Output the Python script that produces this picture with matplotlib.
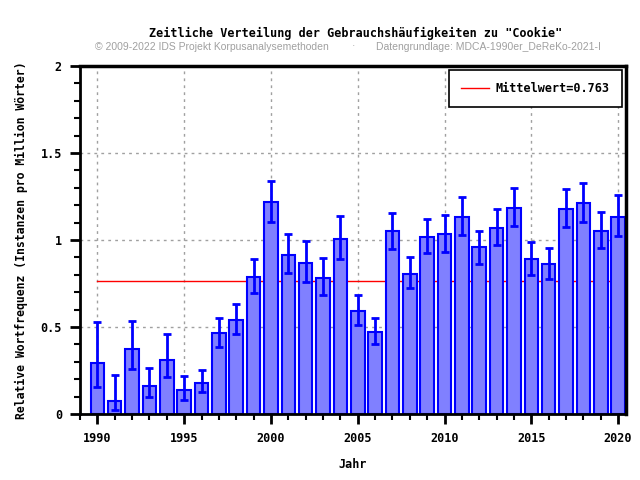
import matplotlib
matplotlib.use('Agg')
import matplotlib.pyplot as plt
from matplotlib.ticker import MultipleLocator, FixedLocator
import numpy as np

years = list(range(1990, 2021))
freq = [0.291, 0.077, 0.375, 0.163, 0.312, 0.136, 0.180, 0.467, 0.542, 0.789,
        1.220, 0.916, 0.870, 0.784, 1.008, 0.594, 0.473, 1.050, 0.806, 1.019,
        1.036, 1.134, 0.958, 1.071, 1.186, 0.893, 0.864, 1.180, 1.215, 1.054,
        1.134]
err_hi = [0.530, 0.224, 0.536, 0.264, 0.461, 0.218, 0.253, 0.552, 0.632, 0.891,
          1.339, 1.036, 0.996, 0.898, 1.140, 0.686, 0.554, 1.157, 0.902, 1.121,
          1.146, 1.249, 1.054, 1.180, 1.299, 0.990, 0.954, 1.293, 1.328, 1.161,
          1.260]
err_lo = [0.157, 0.023, 0.259, 0.098, 0.213, 0.082, 0.128, 0.385, 0.461, 0.695,
          1.105, 0.810, 0.759, 0.684, 0.891, 0.513, 0.404, 0.948, 0.724, 0.925,
          0.931, 1.029, 0.862, 0.971, 1.080, 0.799, 0.776, 1.075, 1.103, 0.954,
          1.023]
mean_value = 0.763

mono = 'DejaVu Sans Mono'

fig = plt.figure(figsize=(6.4, 4.8), dpi=100)
ax = fig.add_axes([0.125, 0.1375, 0.853, 0.725])

f = np.array(freq)
yerr = [f - np.array(err_lo), np.array(err_hi) - f]

ax.plot([years[0], years[-1]], [mean_value, mean_value], color='red', lw=1,
        zorder=1, label='Mittelwert=%.3f' % mean_value)
ax.bar(years, freq, width=0.78, color='#8080ff', edgecolor='#0000ff',
       linewidth=1.5, zorder=2)
ax.errorbar(years, freq, yerr=yerr, fmt='none', ecolor='#0000ff',
            elinewidth=2, capsize=3, capthick=2, zorder=3)

ax.set_xlim(1989, 2020.45)
ax.set_ylim(0, 2)
ax.xaxis.set_major_locator(MultipleLocator(5))
ax.xaxis.set_minor_locator(MultipleLocator(1))
ax.yaxis.set_major_locator(FixedLocator([0, 0.5, 1, 1.5, 2]))
ax.yaxis.set_minor_locator(MultipleLocator(0.1))
ax.set_yticklabels(['0', '0.5', '1', '1.5', '2'])

ax.tick_params(which='major', direction='out', length=7, width=2,
               labelsize=8.5, pad=6)
ax.tick_params(which='minor', direction='out', length=4, width=1.5)
for lab in ax.get_xticklabels() + ax.get_yticklabels():
    lab.set_fontfamily(mono)
    lab.set_fontweight('bold')

ax.grid(True, which='major', color='#a0a0a0', linestyle=(0, (2, 3)), lw=1)
ax.set_axisbelow(True)
for side in ['left', 'bottom']:
    ax.spines[side].set_linewidth(2)
for side in ['right', 'top']:
    ax.spines[side].set_linewidth(2.5)

ax.set_xlabel('Jahr', fontfamily=mono, fontweight='bold', fontsize=8.5,
              labelpad=9)
ax.set_ylabel('Relative Wortfrequenz (Instanzen pro Million Wörter)',
              fontfamily=mono, fontweight='bold', fontsize=8.3, labelpad=9)

leg = ax.legend(loc='upper right', prop={'family': mono, 'weight': 'bold',
                'size': 8.5}, fancybox=False, framealpha=1,
                edgecolor='black', borderpad=1.0, handlelength=2.4,
                handletextpad=0.6, borderaxespad=0.35)
leg.get_frame().set_linewidth(1.2)

fig.text(0.555, 0.931, 'Zeitliche Verteilung der Gebrauchshäufigkeiten zu "Cookie"',
         ha='center', va='center', fontfamily=mono, fontweight='bold',
         fontsize=8.5)
fig.text(0.148, 0.903, '© 2009-2022 IDS Projekt Korpusanalysemethoden',
         ha='left', va='center', fontfamily='Liberation Sans', fontsize=7.5,
         color='#a0a0a0')
fig.text(0.553, 0.903, '·', ha='center', va='center',
         fontfamily='Liberation Sans', fontsize=7.5, color='#a0a0a0')
fig.text(0.587, 0.903, 'Datengrundlage: MDCA-1990er_DeReKo-2021-I',
         ha='left', va='center', fontfamily='Liberation Sans', fontsize=7.5,
         color='#a0a0a0')

fig.savefig('out.png', dpi=100)
